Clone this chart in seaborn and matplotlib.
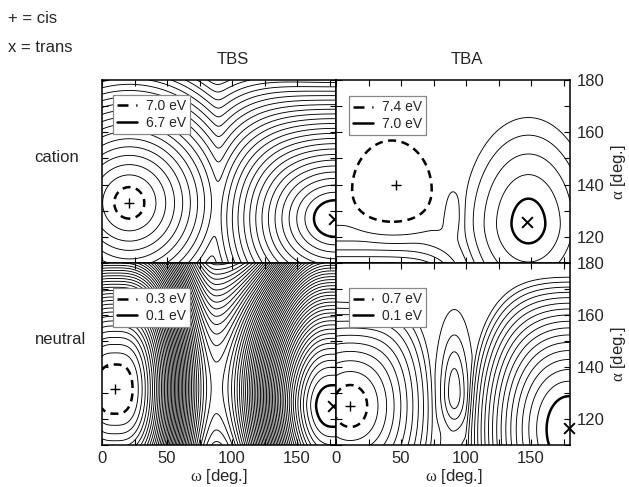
import numpy as np
import pandas as pd
import matplotlib
matplotlib.use("Agg")
import matplotlib.pyplot as plt
import seaborn as sns
from matplotlib.ticker import MultipleLocator
from matplotlib.lines import Line2D

# axis ranges (deg.)
omega_range = [0, 180]
alpha_range = [110, 180]

# TBS neutral: cis minimum, saddle, trans minimum along omega
# energy (eV), alpha of the valley (deg.), stiffness in alpha (eV/deg^q), power q
tbs_neutral_points_omega = [10, 88, 178]
tbs_neutral_points_alpha = [131.5, 132, 125]
tbs_neutral_points_energy = [0.26, 2.32, 0.05]
tbs_neutral_points_stiff = [0.000357, 0.000304, 0.00129]
tbs_neutral_points_power = [2.1, 2.0, 1.76]
tbs_neutral_side_shape = [1.5, 1.3]

# wells: (omega0, alpha0, e_min, width_omega, width_alpha_low, width_alpha_high,
#         power_omega, power_alpha, coupling)
tbs_cation_wells = [(21, 133, 6.96, 113, 59, 59, 1.41, 1.41, 1e6),
                    (179, 127, 6.62, 105, 46, 46, 1.34, 1.34, 109)]
tba_cation_wells = [(43, 137, 7.33, 117, 62, 75, 2.0, 2.0, 1e6),
                    (148, 125, 6.93, 87, 56, 72, 1.4, 1.32, 1e6)]
tba_neutral_wells = [(11, 125, 0.62, 61, 38, 38, 1.63, 1.63, 55),
                     (179, 116, 0.0, 58.6, 44, 44, 1.86, 1.86, 90)]
# flat region between the wells (eV), None = none
tbs_cation_plateau = None
tba_cation_plateau = 7.45
tba_neutral_plateau = 1.75
# hills: (omega0, alpha0, height, width_omega, width_alpha_low, width_alpha_high, power)
tbs_cation_bumps = []
tba_cation_bumps = [(0, 95, 1.0, 90, 17, 17, 6), (90, 128, 0.1, 7, 7, 11, 2)]
tba_neutral_bumps = [(91, 130, 0.42, 10.5, 14, 22, 2), (87, 108, 0.12, 6, 5, 5, 2)]

# contour levels (start, stop, step) and the highlighted cis / trans levels
tbs_cation_levels = (6.7, 8.6, 0.05)
tbs_neutral_levels = (0.1, 4.0, 0.05)
tba_cation_levels = (7.0, 8.6, 0.1)
tba_neutral_levels = (0.1, 2.6, 0.1)
tbs_cation_marked = [7.0, 6.7]
tbs_neutral_marked = [0.3, 0.1]
tba_cation_marked = [7.4, 7.0]
tba_neutral_marked = [0.7, 0.1]

# positions of the cis (+) and trans (x) minima
tbs_cation_cis, tbs_cation_trans = (21, 133), (178.5, 127)
tbs_neutral_cis, tbs_neutral_trans = (10, 131.5), (178, 125)
tba_cation_cis, tba_cation_trans = (46, 140), (147, 125.5)
tba_neutral_cis, tba_neutral_trans = (11, 125), (179, 116.5)

W, A = np.meshgrid(np.linspace(*omega_range, 721), np.linspace(*alpha_range, 701))


def valley_surface(pw, pa, pe, pk, pq, shape):
    # cosine rise from each minimum up to the saddle along omega
    wc, ws, wt = pw
    side = W <= ws
    d = np.where(side, np.abs(W - wc), np.abs(wt - W))
    L = np.where(side, ws - wc, wt - ws)
    h = (1 - np.cos(np.pi * np.clip(d / L, 0, 1))) / 2
    t = h ** np.where(side, shape[0], shape[1])

    def blend(v):
        vmin = np.where(side, v[0], v[2])
        return vmin + (v[1] - vmin) * t

    return blend(pe) + blend(pk) * np.abs(A - blend(pa)) ** blend(pq)


def well_surface(wells, plateau, bumps, soft):
    terms = []
    for w0, a0, e0, lw, la_lo, la_hi, p, pa, lc in wells:
        la = np.where(A < a0, la_lo, la_hi)
        ra = np.abs(A - a0) / la
        rho2 = ((W - w0) / lw) ** 2 + ra ** (2 * pa / p) / (1 + ((W - w0) / lc) ** 2)
        terms.append(e0 + rho2 ** (p / 2))
    if plateau is not None:
        terms.append(np.full_like(W, plateau))
    stack = np.stack(terms)
    m = stack.min(axis=0)
    E = m - soft * np.log(np.exp(-(stack - m) / soft).sum(axis=0))
    for w0, a0, hh, sw, sa_lo, sa_hi, pw in bumps:
        sa = np.where(A < a0, sa_lo, sa_hi)
        E = E + hh * np.exp(-np.abs((W - w0) / sw) ** pw - ((A - a0) / sa) ** 2)
    return E


surfaces = {
    "tbs_cation": well_surface(tbs_cation_wells, tbs_cation_plateau, tbs_cation_bumps, 0.03),
    "tbs_neutral": valley_surface(tbs_neutral_points_omega, tbs_neutral_points_alpha,
                                  tbs_neutral_points_energy, tbs_neutral_points_stiff,
                                  tbs_neutral_points_power, tbs_neutral_side_shape),
    "tba_cation": well_surface(tba_cation_wells, tba_cation_plateau, tba_cation_bumps, 0.01),
    "tba_neutral": well_surface(tba_neutral_wells, tba_neutral_plateau, tba_neutral_bumps, 0.01),
}

sns.set_style("white")
plt.rcParams['font.family'] = ['Liberation Sans', 'DejaVu Sans']
plt.rcParams['mathtext.fontset'] = 'custom'
plt.rcParams['mathtext.rm'] = 'Liberation Serif'
plt.rcParams['mathtext.it'] = 'Liberation Serif'

fig = plt.figure(figsize=(6.29, 4.87), dpi=100)
FW, FH = 629, 487


def px(x, y):
    return x / FW, 1 - y / FH


panels = [
    ("tbs_cation", (102, 80, 183), tbs_cation_levels, tbs_cation_marked,
     tbs_cation_cis, tbs_cation_trans, (0.047, 0.918)),
    ("tba_cation", (336, 80, 183), tba_cation_levels, tba_cation_marked,
     tba_cation_cis, tba_cation_trans, (0.056, 0.911)),
    ("tbs_neutral", (102, 263, 182), tbs_neutral_levels, tbs_neutral_marked,
     tbs_neutral_cis, tbs_neutral_trans, (0.047, 0.861)),
    ("tba_neutral", (336, 263, 182), tba_neutral_levels, tba_neutral_marked,
     tba_neutral_cis, tba_neutral_trans, (0.056, 0.861)),
]

thin = dict(colors='k', linewidths=0.65)
dash_style = (0, (3.2, 2.2))

for name, (x0, y0, hpx), lv, marked, cis, trans, leg_pos in panels:
    ax = fig.add_axes([x0 / FW, 1 - (y0 + hpx) / FH, 234 / FW, hpx / FH])
    E = surfaces[name]
    levels = np.round(np.arange(lv[0], lv[1] + 1e-9, lv[2]), 3)
    cis_lv, trans_lv = marked
    others = [l for l in levels if not np.isclose(l, cis_lv) and not np.isclose(l, trans_lv)]
    ax.contour(W, A, E, levels=others, **thin)

    # highlighted contours only around their own minimum
    E_cis = np.ma.masked_where(W > 90, E)
    E_trans = np.ma.masked_where(W < 90, E)
    ax.contour(W, A, E_trans, levels=[cis_lv], **thin)
    ax.contour(W, A, E_cis, levels=[trans_lv], **thin)
    ax.contour(W, A, E_cis, levels=[cis_lv], colors='k', linewidths=1.8, linestyles=[dash_style])
    ax.contour(W, A, E_trans, levels=[trans_lv], colors='k', linewidths=1.8)

    pts = pd.DataFrame({"omega": [cis[0], trans[0]], "alpha": [cis[1], trans[1]],
                        "kind": ["cis", "trans"]})
    sns.scatterplot(data=pts[pts.kind == "cis"], x="omega", y="alpha", marker="+", s=60,
                    color='k', linewidth=1.0, ax=ax, clip_on=False, legend=False, zorder=5)
    sns.scatterplot(data=pts[pts.kind == "trans"], x="omega", y="alpha", marker="x", s=60,
                    color='k', linewidth=1.4, ax=ax, clip_on=False, legend=False, zorder=5)

    handles = [Line2D([], [], color='k', lw=1.8, dashes=(4.4, 3.1)),
               Line2D([], [], color='k', lw=1.8)]
    labels = [f"{cis_lv:.1f} eV", f"{trans_lv:.1f} eV"]
    leg = ax.legend(handles, labels, loc='upper left', bbox_to_anchor=leg_pos, borderaxespad=0,
                    fontsize=10, handlelength=1.45, handletextpad=0.6, labelspacing=0.2,
                    borderpad=0.3, fancybox=False, framealpha=1, edgecolor='#888888')
    leg.get_frame().set_linewidth(0.9)

    ax.set_xlim(*omega_range)
    ax.set_ylim(*alpha_range)
    ax.set_xlabel("")
    ax.set_ylabel("")
    ax.xaxis.set_major_locator(MultipleLocator(50))
    ax.xaxis.set_minor_locator(MultipleLocator(25))
    ax.yaxis.set_major_locator(MultipleLocator(20))
    ax.yaxis.set_minor_locator(MultipleLocator(10))
    ax.tick_params(which='both', direction='in', top=True, bottom=True, left=True, right=True,
                   length=4.5, width=0.8, labelsize=12, color='k')
    ax.tick_params(axis='x', pad=4)
    ax.tick_params(axis='y', pad=5)
    ax.tick_params(labelleft=False, labelright=name.startswith("tba"),
                   labelbottom=name.endswith("neutral"), labeltop=False)
    for s in ax.spines.values():
        s.set_visible(True)
        s.set_color('k')
        s.set_linewidth(1.1)

fs = 12
fig.text(*px(8, 18.5), "+ = cis", fontsize=fs, va='center', ha='left')
fig.text(*px(8, 47), "x = trans", fontsize=fs, va='center', ha='left')
fig.text(*px(233, 59), "TBS", fontsize=fs, va='center', ha='center')
fig.text(*px(467, 59), "TBA", fontsize=fs, va='center', ha='center')
fig.text(*px(57, 158), "cation", fontsize=fs, va='center', ha='center')
fig.text(*px(61, 340), "neutral", fontsize=fs, va='center', ha='center')
fig.text(*px(219, 476), r"$\mathrm{\omega}$ [deg.]", fontsize=fs, va='center', ha='center')
fig.text(*px(454, 476), r"$\mathrm{\omega}$ [deg.]", fontsize=fs, va='center', ha='center')
fig.text(*px(619, 172), r"$\mathrm{\alpha}$ [deg.]", fontsize=fs, va='center', ha='center',
         rotation=90)
fig.text(*px(619, 354), r"$\mathrm{\alpha}$ [deg.]", fontsize=fs, va='center', ha='center',
         rotation=90)

fig.savefig("out.png", dpi=100)
